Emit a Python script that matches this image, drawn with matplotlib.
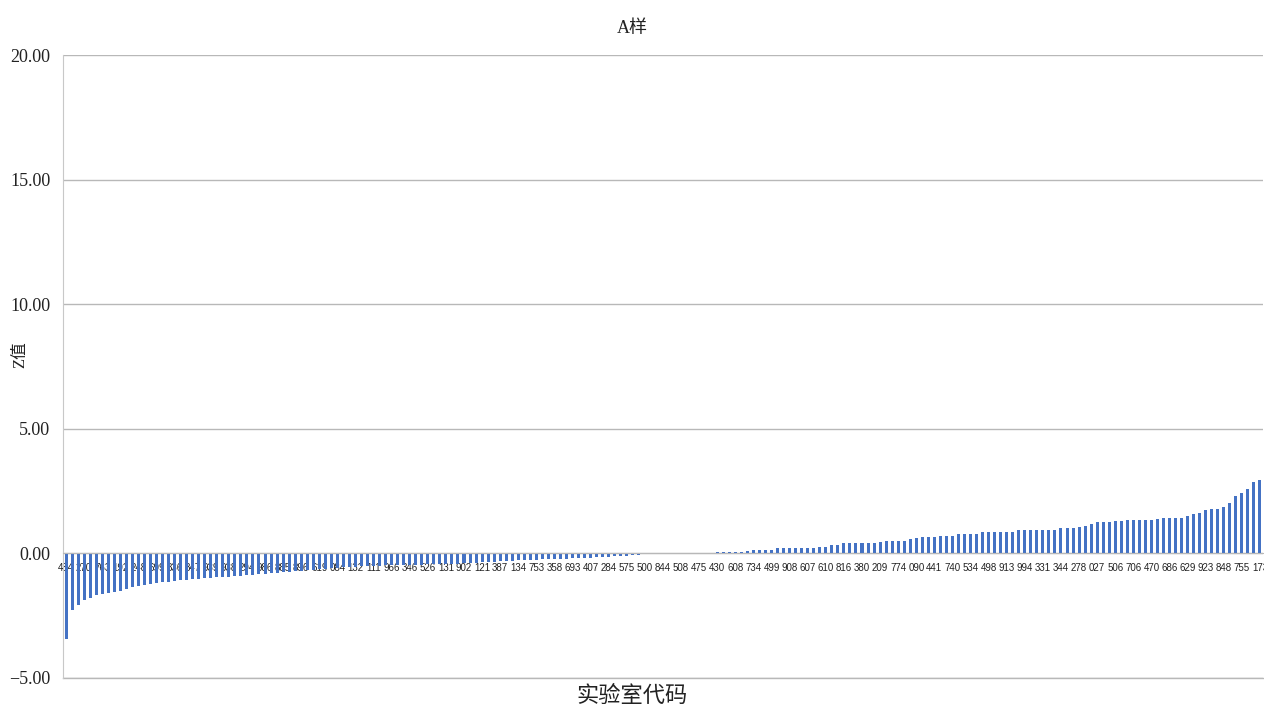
import matplotlib
matplotlib.use("Agg")
from matplotlib import pyplot as plt

neg_values = [-3.43, -2.27, -2.07, -1.86, -1.79, -1.67, -1.64, -1.58, -1.55, -1.51,
              -1.42, -1.35, -1.31, -1.27, -1.23, -1.20, -1.16, -1.14, -1.11, -1.08,
              -1.06, -1.04, -1.02, -1.00, -0.98, -0.96, -0.94, -0.93, -0.91, -0.90,
              -0.88, -0.86, -0.84, -0.82, -0.80, -0.78, -0.76, -0.74, -0.72, -0.70,
              -0.68, -0.66, -0.64, -0.62, -0.60, -0.58, -0.56, -0.54, -0.53, -0.52,
              -0.51, -0.50, -0.49, -0.48, -0.47, -0.47, -0.46, -0.46, -0.45, -0.45,
              -0.44, -0.44, -0.43, -0.43, -0.42, -0.41, -0.40, -0.38, -0.37, -0.35,
              -0.34, -0.33, -0.31, -0.30, -0.29, -0.28, -0.27, -0.26, -0.25, -0.24,
              -0.24, -0.23, -0.22, -0.21, -0.20, -0.19, -0.18, -0.17, -0.16, -0.14,
              -0.13, -0.12, -0.11, -0.10, -0.08, -0.06, -0.04, -0.03, -0.02]
zero_values = [0.0] * 9
pos_values = [0.07, 0.07, 0.07, 0.07, 0.07, 0.10, 0.13, 0.13, 0.13, 0.13,
              0.20, 0.20, 0.20, 0.20, 0.20, 0.20, 0.20, 0.27, 0.27, 0.33,
              0.33, 0.40, 0.40, 0.40, 0.40, 0.40, 0.40, 0.47, 0.50, 0.50,
              0.50, 0.50, 0.56, 0.63, 0.67, 0.67, 0.67, 0.71, 0.71, 0.71,
              0.76, 0.76, 0.76, 0.78, 0.87, 0.87, 0.87, 0.87, 0.87, 0.87,
              0.94, 0.94, 0.94, 0.94, 0.94, 0.94, 0.94, 1.00, 1.00, 1.00,
              1.07, 1.11, 1.18, 1.24, 1.28, 1.28, 1.31, 1.31, 1.35, 1.35,
              1.35, 1.35, 1.35, 1.38, 1.44, 1.44, 1.44, 1.44, 1.51, 1.58,
              1.64, 1.74, 1.78, 1.78, 1.87, 2.04, 2.31, 2.41, 2.58, 2.87,
              2.94]
z_values = neg_values + zero_values + pos_values

# lab codes shown on the axis (every third bar)
shown_codes = ["484", "270", "763", "192", "248", "699", "836", "847", "939", "938",
               "294", "986", "885", "896", "619", "084", "132", "111", "966", "346",
               "526", "131", "902", "121", "387", "134", "753", "358", "693", "407",
               "284", "575", "500", "844", "508", "475", "430", "608", "734", "499",
               "908", "607", "610", "816", "380", "209", "774", "090", "441", "740",
               "534", "498", "913", "994", "331", "344", "278", "027", "506", "706",
               "470", "686", "629", "923", "848", "755", "173"]
label_step = 3

y_ticks = [-5, 0, 5, 10, 15, 20]

serif_cjk = ["Liberation Serif", "Noto Sans CJK SC"]

fig = plt.figure(figsize=(12.64, 7.06), dpi=100)
ax = fig.add_axes([63 / 1264, 28 / 706, 1200 / 1264, 623 / 706])

# move the category axis to zero first (this resets the ticks)
ax.spines["bottom"].set_position(("data", 0))
ax.spines["bottom"].set_color("#b8b8b8")
ax.spines["left"].set_color("#c8c8c8")
ax.spines["top"].set_visible(False)
ax.spines["right"].set_visible(False)

x = list(range(len(z_values)))
ax.bar(x, z_values, width=0.5, color="#4472c4", zorder=2)

ax.set_xlim(-0.5, len(z_values) - 0.5)
ax.set_ylim(-5, 20)
ax.set_yticks(y_ticks)
ax.set_yticklabels(["\u22125.00" if v < 0 else "%.2f" % v for v in y_ticks],
                   family="Liberation Serif", fontsize=13, color="#222222")
ax.yaxis.grid(True, color="#b8b8b8", linewidth=1.0)
ax.tick_params(axis="y", length=0, pad=9)
ax.axhline(-5, color="#b8b8b8", linewidth=1.0, clip_on=False, zorder=1)

ax.set_xticks(x[::label_step])
ax.set_xticklabels(shown_codes, family="Liberation Sans", fontsize=7.0,
                   color="#222222")
ax.tick_params(axis="x", length=0, pad=7)

fig.text(0.5, 1 - 28 / 706, "A样", ha="center", va="center", fontsize=13,
         family=serif_cjk, color="#222222")
fig.text(20 / 1264, 1 - 355 / 706, "Z值", ha="center", va="center", rotation=90,
         fontsize=12, family=serif_cjk, color="#222222")
fig.text(0.5, 1 - 696 / 706, "实验室代码", ha="center", va="center", fontsize=16,
         family=serif_cjk, color="#222222")

fig.savefig("out.png", dpi=100)
